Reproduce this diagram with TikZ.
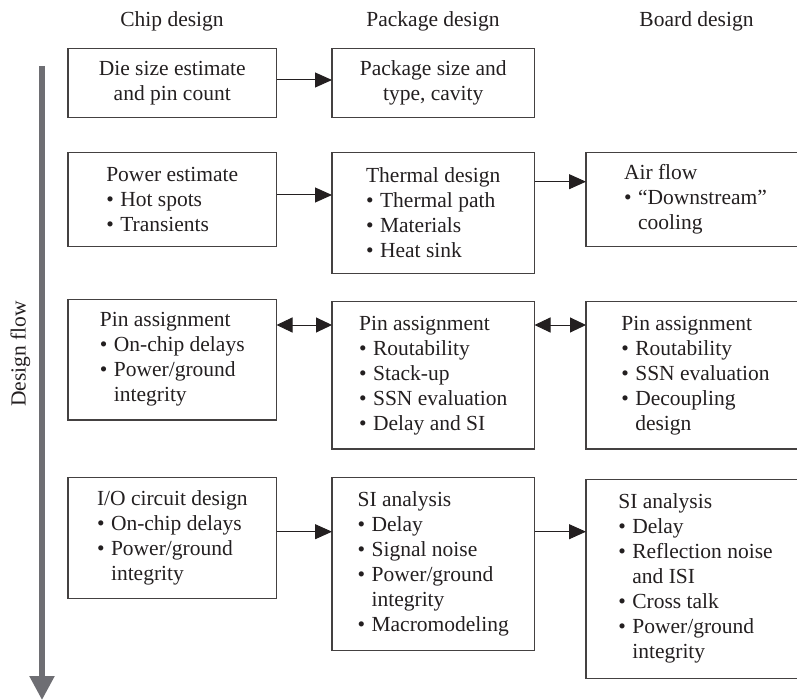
\documentclass[tikz,border=0pt]{standalone}
\usepackage{fontspec}
\setmainfont{Liberation Serif}
\usetikzlibrary{arrows.meta,positioning}

\definecolor{ink}{RGB}{35,31,32}
\definecolor{flowgray}{RGB}{110,110,115}

% bullet items with a hanging indent
\newcommand{\bul}{\makebox[14pt][l]{\textbullet}}
\newcommand{\ind}{\hspace*{14pt}}

\begin{document}
\begin{tikzpicture}[
  x=1pt,
  y=-1pt,
  every node/.style={font=\fontsize{21.5}{25}\selectfont, text=ink},
  stage/.style={draw=ink!85, line width=1.2pt, align=left, anchor=north west,
    inner sep=0pt, outer sep=0pt},
  chipbox/.style={stage, minimum width=208.5pt},
  pkgbox/.style={stage, minimum width=202.5pt},
  boardbox/.style={stage, minimum width=219pt},
  arr/.style={ink, line width=1pt, -{Triangle[length=17pt,width=15pt]}},
  both/.style={ink, line width=1pt,
    {Triangle[length=16pt,width=15pt]}-{Triangle[length=16pt,width=15pt]}},
  flow/.style={flowgray, line width=5.3pt, -{Triangle[length=24pt,width=24pt]}}
]
  \clip (0,0) rectangle (797,700);

  % column heads
  \foreach \x/\name/\id in {172/Chip design/chip, 433/Package design/pkg,
      696.5/Board design/board} {
    \node[anchor=base] (\id head) at (\x,27) {\name};
  }

  % design flow arrow
  \coordinate (flowtop) at (42,66);
  \coordinate (flowend) at (42,700);
  \draw[flow] (flowtop) -- (flowend);
  \node[rotate=90, anchor=base] (flowlabel) at (25.7,354) {Design flow};

  % row 1
  \node[chipbox, align=center, minimum height=69pt] (chip1) at (68,48.7)
    {Die size estimate\\and pin count};
  \node[pkgbox, align=center, minimum height=69pt] (pkg1) at (332,48.7)
    {Package size and\\type, cavity};

  % row 2
  \node[chipbox, minimum height=94.4pt] (chip2) at (68,152.3)
    {Power estimate\\\bul Hot spots\\\bul Transients};
  \node[pkgbox, minimum height=121pt] (pkg2) at (332,152.3)
    {Thermal design\\\bul Thermal path\\\bul Materials\\\bul Heat sink};
  \node[boardbox, minimum height=94.4pt] (board2) at (586,152.3)
    {Air flow\\\bul “Downstream”\\\ind cooling};

  % row 3
  \node[chipbox, minimum height=120.7pt] (chip3) at (68,299.3)
    {Pin assignment\\\bul On-chip delays\\\bul Power/ground\\\ind integrity};
  \node[pkgbox, minimum height=147.3pt] (pkg3) at (332,301.7)
    {Pin assignment\\\bul Routability\\\bul Stack-up\\\bul SSN evaluation\\\bul Delay and SI};
  \node[boardbox, minimum height=147.3pt] (board3) at (586,301.7)
    {Pin assignment\\\bul Routability\\\bul SSN evaluation\\\bul Decoupling\\\ind design};

  % row 4
  \node[chipbox, minimum height=120.6pt] (chip4) at (68,477.7)
    {I/O circuit design\\\bul On-chip delays\\\bul Power/ground\\\ind integrity};
  \node[pkgbox, minimum height=173pt] (pkg4) at (332,477.7)
    {SI analysis\\\bul Delay\\\bul Signal noise\\\bul Power/ground\\\ind integrity\\\bul Macromodeling};
  \node[boardbox, minimum height=199pt] (board4) at (586,479.3)
    {SI analysis\\\bul Delay\\\bul Reflection noise\\\ind and ISI\\\bul Cross talk\\\bul Power/ground\\\ind integrity};

  % arrow heights
  \coordinate (y1) at (0,80);
  \coordinate (y2a) at (0,195);
  \coordinate (y2b) at (0,181.7);
  \coordinate (y3) at (0,325);
  \coordinate (y4) at (0,531.7);

  \draw[arr] (chip1.east |- y1) -- (pkg1.west |- y1);
  \draw[arr] (chip2.east |- y2a) -- (pkg2.west |- y2a);
  \draw[arr] (pkg2.east |- y2b) -- (board2.west |- y2b);
  \draw[both] (chip3.east |- y3) -- (pkg3.west |- y3);
  \draw[both] (pkg3.east |- y3) -- (board3.west |- y3);
  \draw[arr] (chip4.east |- y4) -- (pkg4.west |- y4);
  \draw[arr] (pkg4.east |- y4) -- (board4.west |- y4);
\end{tikzpicture}
\end{document}
